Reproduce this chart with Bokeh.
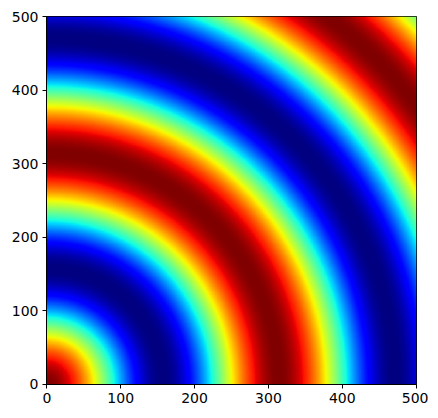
import numpy as np
from bokeh.plotting import figure
from bokeh.models import Range1d, LinearColorMapper, FixedTicker
from bokeh.embed import file_html
from bokeh.resources import INLINE

# ---- data (image of concentric rings: cos(r / scale) on a 501x501 grid) ----
grid_size = 501          # samples per axis (0..500)
ring_scale = 50.0        # r / ring_scale gives the phase
x_ticks = [0, 100, 200, 300, 400, 500]
y_ticks = [0, 100, 200, 300, 400, 500]

coords = np.arange(grid_size, dtype=float)
X, Y = np.meshgrid(coords, coords)
Z = np.cos(np.sqrt(X ** 2 + Y ** 2) / ring_scale)

# ---- matplotlib "jet" colormap ----
def jet_palette(n=256):
    t = np.linspace(0, 1, n)
    r = np.interp(t, [0, 0.35, 0.66, 0.89, 1], [0, 0, 1, 1, 0.5])
    g = np.interp(t, [0, 0.125, 0.375, 0.64, 0.91, 1], [0, 0, 1, 1, 0, 0])
    b = np.interp(t, [0, 0.11, 0.34, 0.65, 1], [0.5, 1, 1, 0, 0])
    return ["#%02x%02x%02x" % (int(round(rr * 255)), int(round(gg * 255)), int(round(bb * 255)))
            for rr, gg, bb in zip(r, g, b)]

mapper = LinearColorMapper(palette=jet_palette(256), low=float(Z.min()), high=float(Z.max()))

p = figure(frame_width=370, frame_height=368,
           x_range=Range1d(-0.5, grid_size - 0.5), y_range=Range1d(-0.5, grid_size - 0.5),
           output_backend="svg", toolbar_location=None,
           min_border_left=46, min_border_right=12, min_border_top=16, min_border_bottom=24)

p.image(image=[Z], x=-0.5, y=-0.5, dw=grid_size, dh=grid_size, color_mapper=mapper)

p.grid.visible = False
p.outline_line_color = "black"
p.outline_line_width = 1
p.background_fill_color = "white"
p.border_fill_color = "white"

for ax, ticks in ((p.xaxis, x_ticks), (p.yaxis, y_ticks)):
    ax.ticker = FixedTicker(ticks=ticks)
    ax.minor_tick_line_color = None
    ax.major_tick_in = 0
    ax.major_tick_out = 4
    ax.major_tick_line_color = "black"
    ax.axis_line_color = "black"
    ax.major_label_text_font = "DejaVu Sans"
    ax.major_label_text_font_size = "14px"
    ax.major_label_text_color = "black"
    ax.major_label_standoff = 4

open("out.html", "w").write(file_html(p, INLINE))
